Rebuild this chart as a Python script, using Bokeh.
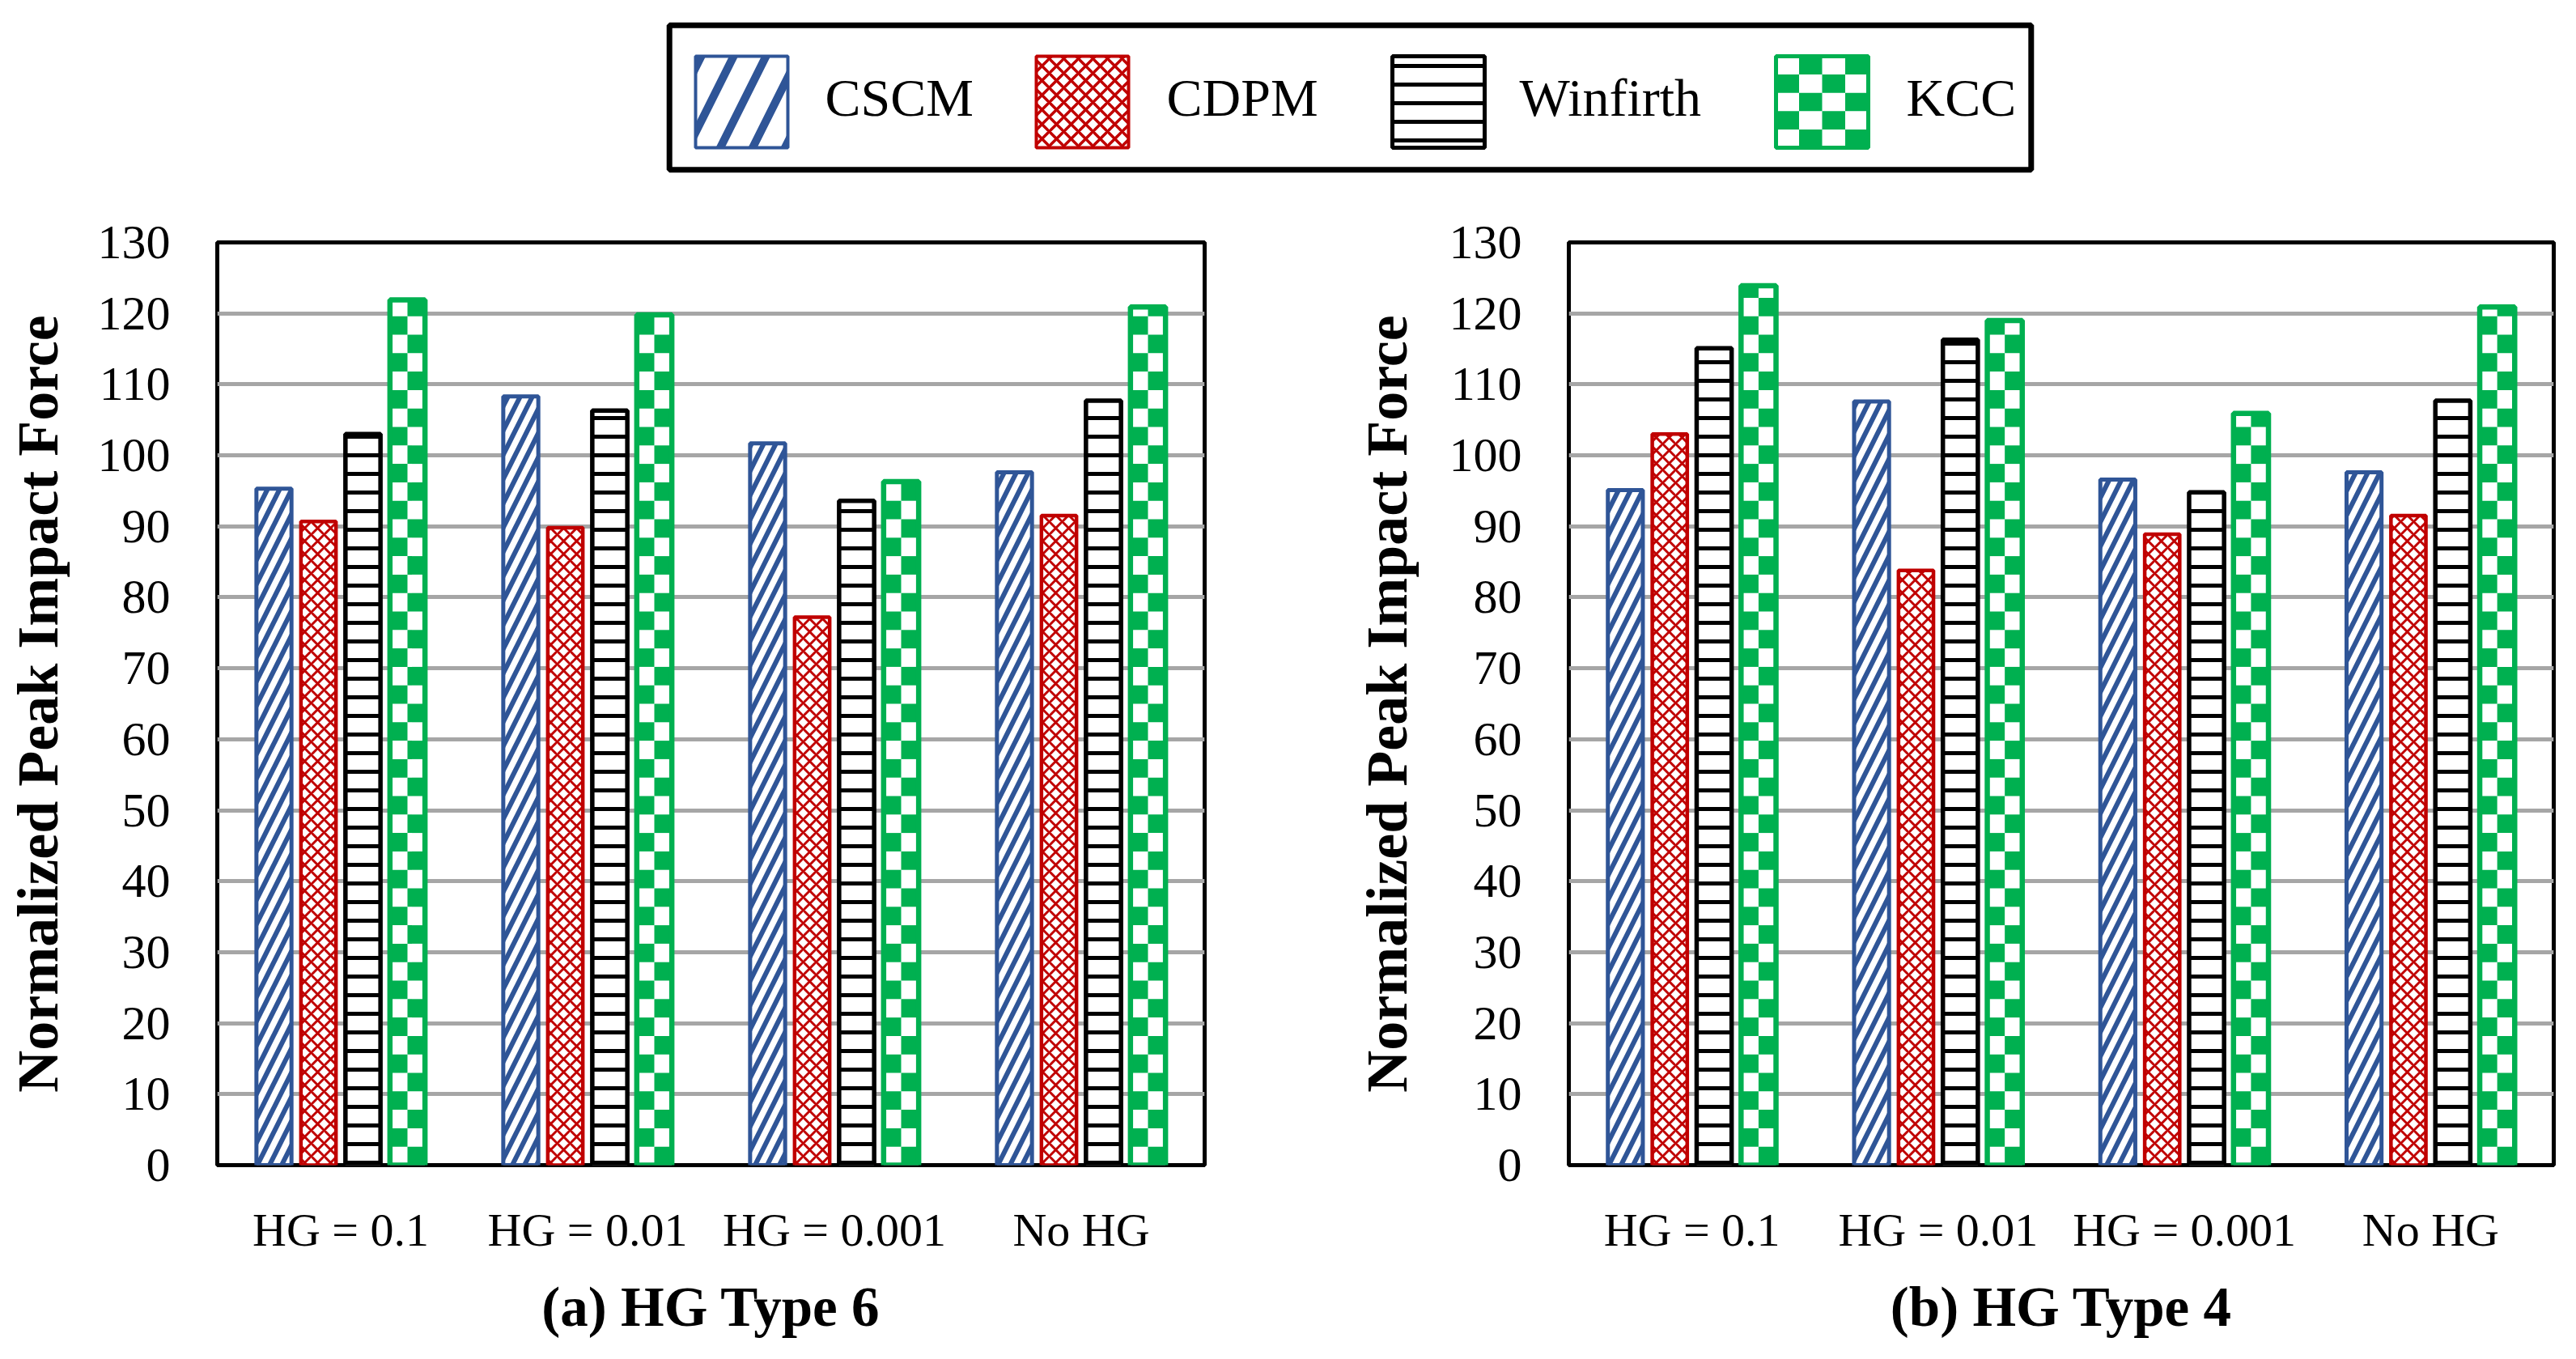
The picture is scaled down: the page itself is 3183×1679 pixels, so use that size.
import math
from bokeh.plotting import figure
from bokeh.layouts import column, row
from bokeh.models import Range1d, FactorRange, FixedTicker, ColumnDataSource
from bokeh.core.properties import value
from bokeh.embed import file_html
from bokeh.resources import INLINE

# ---------------- data ----------------
categories = ["HG = 0.1", "HG = 0.01", "HG = 0.001", "No HG"]
series_names = ["CSCM", "CDPM", "Winfirth", "KCC"]
y_ticks = list(range(0, 131, 10))

cscm_a = [95.3, 108.3, 101.7, 97.6]
cdpm_a = [90.7, 89.8, 77.2, 91.5]
winfirth_a = [103.0, 106.3, 93.6, 107.7]
kcc_a = [121.9, 119.8, 96.3, 120.9]

cscm_b = [95.1, 107.6, 96.6, 97.6]
cdpm_b = [103.0, 83.8, 88.9, 91.5]
winfirth_b = [115.1, 116.3, 94.8, 107.7]
kcc_b = [123.9, 119.0, 105.9, 120.9]

title_a = "(a) HG Type 6"
title_b = "(b) HG Type 4"
y_title = "Normalized Peak Impact Force"

# ---------------- style ----------------
BLUE = "#2F5597"
RED = "#C00000"
BLACK = "#000000"
GREEN = "#00B050"
GRID = "#A6A6A6"
FONT = "Liberation Serif"

STEP = 0.1803
BAR_W = 0.142
OFFS = [(k - 1.5) * STEP for k in range(4)]
CELL_H = 2.6

bar_styles = [
    dict(line_color=BLUE, line_width=5, hatch_pattern="/", hatch_color=BLUE, hatch_scale=30, hatch_weight=6),
    dict(line_color=RED, line_width=4.5, hatch_pattern="x", hatch_color=RED, hatch_scale=16, hatch_weight=3),
    dict(line_color=BLACK, line_width=5.5, hatch_pattern="-", hatch_color=BLACK, hatch_scale=23, hatch_weight=5),
    None,
]


def make_chart(vals, title, width, height, mbl, mbr, mbt, mbb, ystand):
    p = figure(x_range=FactorRange(*categories), y_range=Range1d(0, 130),
               width=width, height=height, output_backend="svg",
               toolbar_location=None, title=None,
               min_border_left=mbl, min_border_right=mbr,
               min_border_top=mbt, min_border_bottom=mbb)
    p.background_fill_color = "white"
    p.border_fill_color = "white"
    p.outline_line_color = "black"
    p.outline_line_width = 5
    p.xgrid.visible = False
    p.ygrid.grid_line_color = GRID
    p.ygrid.grid_line_width = 5
    p.yaxis.ticker = FixedTicker(ticks=y_ticks)

    for ax in (p.xaxis, p.yaxis):
        ax.axis_line_color = None
        ax.major_tick_line_color = None
        ax.minor_tick_line_color = None
        ax.major_label_text_font = FONT
        ax.major_label_text_color = "black"
        ax.axis_label_text_font = FONT
        ax.axis_label_text_font_style = "bold"
        ax.axis_label_text_color = "black"

    p.yaxis.major_label_text_font_size = "60px"
    p.yaxis.major_label_standoff = 52
    p.yaxis.axis_label = y_title
    p.yaxis.axis_label_text_font_size = "72px"
    p.yaxis.axis_label_standoff = ystand

    p.xaxis.major_label_text_font_size = "58px"
    p.xaxis.major_label_standoff = 41
    p.xaxis.axis_label = title
    p.xaxis.axis_label_text_font_size = "69px"
    p.xaxis.axis_label_standoff = 22

    n = len(categories)
    for k, vk in enumerate(vals):
        xs = [i + 0.5 + OFFS[k] for i in range(n)]
        src = ColumnDataSource(dict(x=xs, top=vk))
        st = bar_styles[k]
        if st is not None:
            p.vbar(x="x", top="top", bottom=0, width=BAR_W, source=src,
                   fill_color="white", **st)
        else:
            # checkerboard bar
            p.vbar(x="x", top="top", bottom=0, width=BAR_W, source=src,
                   fill_color="white", line_color=None)
            left, right, bottom, top = [], [], [], []
            for xc, v in zip(xs, vk):
                nrows = int(math.ceil(v / CELL_H))
                for r in range(nrows):
                    y0 = r * CELL_H
                    y1 = min(v, y0 + CELL_H)
                    c = 1 if r % 2 == 0 else 0
                    l = xc - BAR_W / 2 + c * BAR_W / 2
                    left.append(l)
                    right.append(l + BAR_W / 2)
                    bottom.append(y0)
                    top.append(y1)
            p.quad(left=left, right=right, bottom=bottom, top=top,
                   fill_color=GREEN, line_color=None)
            p.vbar(x="x", top="top", bottom=0, width=BAR_W, source=src,
                   fill_color=None, line_color=GREEN, line_width=6.5)
    return p


# ---------------- layout geometry (page px, origin at page corner) ----------------
PAGE_W = 3183
LEG_H = 228
CH_H = 1448
P1_W = 1670
p1 = make_chart([cscm_a, cdpm_a, winfirth_a, kcc_a], title_a,
                P1_W, CH_H, 268, 182, 66, 237, 31)
p2 = make_chart([cscm_b, cdpm_b, winfirth_b, kcc_b], title_b,
                PAGE_W - P1_W, CH_H, 265, 28, 71, 231, 34)

# ---------------- legend ----------------
lg = figure(width=PAGE_W, height=LEG_H, x_range=Range1d(0, PAGE_W), y_range=Range1d(LEG_H, 0),
            output_backend="svg", toolbar_location=None, title=None,
            x_axis_type=None, y_axis_type=None, min_border=0)
lg.outline_line_color = None
lg.background_fill_color = "white"
lg.border_fill_color = "white"

lg.quad(left=[826.7], right=[2509.3], top=[30.7], bottom=[209.3],
        fill_color=None, line_color="black", line_width=7)

sw_left = [859, 1280, 1720, 2194]
sw_w = 114
sw_top, sw_bot = 69, 182
lab_x = [1019, 1441, 1877, 2355]

leg_styles = [
    dict(line_color=BLUE, line_width=4, hatch_pattern="/", hatch_color=BLUE, hatch_scale=80, hatch_weight=10),
    dict(line_color=RED, line_width=4, hatch_pattern="x", hatch_color=RED, hatch_scale=18, hatch_weight=3.5),
    dict(line_color=BLACK, line_width=5, hatch_pattern="-", hatch_color=BLACK, hatch_scale=23, hatch_weight=5),
]
for k in range(3):
    lg.quad(left=[sw_left[k]], right=[sw_left[k] + sw_w], top=[sw_top], bottom=[sw_bot],
            fill_color="white", **leg_styles[k])

# KCC checker swatch
ncol, nrow = 4, 5
cw = sw_w / ncol
chh = (sw_bot - sw_top) / nrow
cl, cr, ct, cb = [], [], [], []
for r in range(nrow):
    for c in range(ncol):
        if (r + c) % 2 == 1:
            cl.append(sw_left[3] + c * cw)
            cr.append(sw_left[3] + (c + 1) * cw)
            ct.append(sw_top + r * chh)
            cb.append(sw_top + (r + 1) * chh)
lg.quad(left=cl, right=cr, top=ct, bottom=cb, fill_color=GREEN, line_color=None)
lg.quad(left=[sw_left[3]], right=[sw_left[3] + sw_w], top=[sw_top], bottom=[sw_bot],
        fill_color=None, line_color=GREEN, line_width=5)

lg.text(x=lab_x, y=[120] * 4, text=series_names,
        text_font=value(FONT), text_font_size="66px", text_color="black",
        text_baseline="middle", text_align="left")

layout = column(lg, row(p1, p2))
open("out.html", "w").write(file_html(layout, INLINE))
